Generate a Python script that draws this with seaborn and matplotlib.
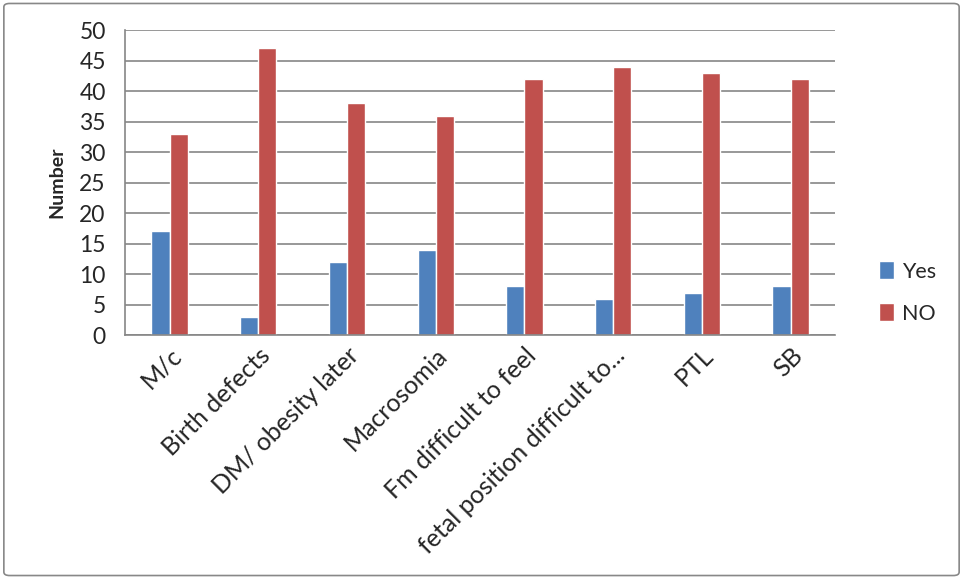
import matplotlib

matplotlib.use("Agg")
import matplotlib.pyplot as plt
import pandas as pd
import seaborn as sns
from matplotlib.patches import FancyBboxPatch

categories = [
    "M/c",
    "Birth defects",
    "DM/ obesity later",
    "Macrosomia",
    "Fm difficult to feel",
    "fetal position difficult to...",
    "PTL",
    "SB",
]
yes_values = [17, 3, 12, 14, 8, 6, 7, 8]
no_values = [33, 47, 38, 36, 42, 44, 43, 42]
series_names = ["Yes", "NO"]
colors = ["#4F81BD", "#C0504D"]

df = pd.DataFrame({
    "category": categories * 2,
    "series": [series_names[0]] * len(categories) + [series_names[1]] * len(categories),
    "value": yes_values + no_values,
})

sns.set_theme(style="white")
plt.rcParams["font.family"] = ["Lato", "DejaVu Sans"]

fig = plt.figure(figsize=(9.63, 5.79), dpi=100)
ax = fig.add_axes([0.130, 0.421, 0.737, 0.527])

sns.barplot(
    data=df, x="category", y="value", hue="series",
    palette=colors, width=0.41, saturation=1, ax=ax,
)

ax.set_ylim(0, 50)
ax.set_yticks(range(0, 51, 5))
ax.yaxis.grid(True, color="#868686", linewidth=1.2)
ax.set_axisbelow(True)
for side in ["top", "right"]:
    ax.spines[side].set_visible(False)
for side in ["left", "bottom"]:
    ax.spines[side].set_color("#868686")
    ax.spines[side].set_linewidth(1.2)
ax.tick_params(axis="y", length=6, color="#868686", width=1.2, labelsize=16.5, pad=8)
ax.tick_params(axis="x", length=0, labelsize=18, pad=6)
ax.set_xlabel("")
ax.set_ylabel("Number", fontsize=14, fontweight="bold", labelpad=10)
plt.setp(ax.get_xticklabels(), rotation=45, ha="right", rotation_mode="anchor")

ax.legend(
    loc="center left", bbox_to_anchor=(1.035, 0.14), frameon=False,
    fontsize=15.5, handlelength=0.7, handleheight=0.9, labelspacing=1.0,
    handletextpad=0.35,
)

fig.patches.append(FancyBboxPatch(
    (0.004, 0.006), 0.992, 0.988, boxstyle="round,pad=0,rounding_size=0.006",
    transform=fig.transFigure, fill=False, edgecolor="#888888", linewidth=1.2,
))

fig.savefig("out.png", dpi=100)
plt.close(fig)
